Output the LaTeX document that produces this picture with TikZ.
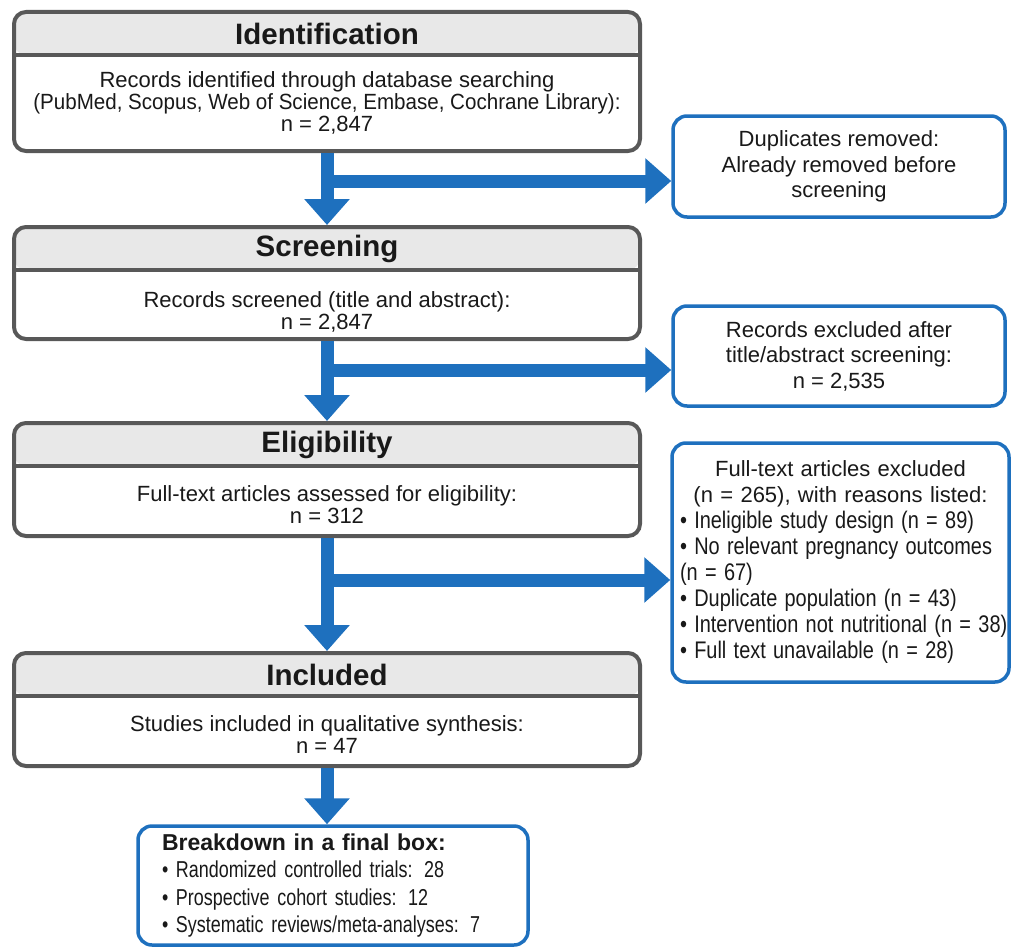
\documentclass[tikz,border=0pt]{standalone}
\usepackage{fontspec}
\usepackage{graphicx}
\setmainfont{Liberation Sans}
\newfontfamily\schmalsans{Liberation Sans}[FakeStretch=0.83]
\newfontfamily\engsans{Liberation Sans}[FakeStretch=0.78]
\usetikzlibrary{arrows.meta,calc}

\definecolor{pfeilblau}{RGB}{30,112,190}
\definecolor{rahmengrau}{RGB}{88,88,88}
\definecolor{kopfgrau}{RGB}{232,232,232}
\definecolor{schrift}{RGB}{25,25,25}

\tikzset{
  phase/.style={draw=rahmengrau, line width=4pt, rounded corners=12pt, fill=white,
    minimum width=626pt, inner sep=0pt,
    path picture={
      \fill[kopfgrau] (path picture bounding box.north west) rectangle ([yshift=-43pt]path picture bounding box.north east);
      \draw[rahmengrau, line width=4pt] ([yshift=-43pt]path picture bounding box.north west) -- ([yshift=-43pt]path picture bounding box.north east);
    }},
  phasentitel/.style={font=\bfseries\fontsize{29.5}{32}\selectfont, text=schrift},
  phasentext/.style={font=\fontsize{22}{22}\selectfont, align=center, text=schrift},
  seitenbox/.style={draw=pfeilblau, line width=3.5pt, rounded corners=14pt, fill=white,
    inner sep=0pt, text=schrift},
  fluss/.style={draw=pfeilblau, line width=13pt, -{Triangle[width=44pt,length=26pt]}}
}

\begin{document}
\begin{tikzpicture}[x=1pt, y=-1pt]
  \useasboundingbox (0,0) rectangle (1012,950);

  % Phasen-Boxen
  \node[phase, minimum height=139pt] (ident) at (327,81.5) {};
  \node[phasentitel] (identTitel) at (327,33.5) {Identification};
  \node[phasentext] (identText) at (327,102.5) {Records identified through database searching\\\scalebox{0.935}[1]{(PubMed, Scopus, Web of Science, Embase, Cochrane Library):}\\n = 2,847};

  \node[phase, minimum height=112pt] (screen) at (327,283) {};
  \node[phasentitel] (screenTitel) at (327,248.5) {Screening};
  \node[phasentext] (screenText) at (327,312) {Records screened (title and abstract):\\n = 2,847};

  \node[phase, minimum height=113pt] (elig) at (327,479.5) {};
  \node[phasentitel] (eligTitel) at (327,444.5) {Eligibility};
  \node[phasentext] (eligText) at (327,505) {Full-text articles assessed for eligibility:\\n = 312};

  \node[phase, minimum height=113pt] (incl) at (327,709.5) {};
  \node[phasentitel] (inclTitel) at (327,674.5) {Included};
  \node[phasentext] (inclText) at (327,735) {Studies included in qualitative synthesis:\\n = 47};

  % Ausschluss-Boxen
  \node[seitenbox, minimum width=332pt, minimum height=101pt, align=center,
    font=\fontsize{22}{25.5}\selectfont] (dup) at (839,166.5)
    {Duplicates removed:\\Already removed before\\screening};
  \node[seitenbox, minimum width=332pt, minimum height=100pt, align=center,
    font=\fontsize{22}{25.5}\selectfont] (recex) at (839,356)
    {Records excluded after\\title/abstract screening:\\n = 2,535};
  \node[seitenbox, minimum height=239pt, text width=321pt, inner xsep=8pt, align=left,
    font=\fontsize{22}{26}\selectfont] (ftex) at (840.5,562.5)
    {\centering Full-text articles excluded\\(n = 265), with reasons listed:\par
     \raggedright\schmalsans\fontsize{24}{26}\selectfont
     \mbox{• Ineligible study design (n = 89)}\\
     \mbox{• No relevant pregnancy outcomes}\\
     (n = 67)\\
     \mbox{• Duplicate population (n = 43)}\\
     \mbox{• Intervention not nutritional (n = 38)}\\
     \mbox{• Full text unavailable (n = 28)}};

  % Endbox
  \node[seitenbox, minimum height=119pt, text width=342pt, inner xsep=24pt, align=left,
    font=\fontsize{23}{27.5}\selectfont] (final) at (333,885.5)
    {{\bfseries Breakdown in a final box:}\\
     {\engsans • Randomized controlled trials: 28}\\
     {\engsans • Prospective cohort studies: 12}\\
     {\engsans • Systematic reviews/meta-analyses: 7}};

  % Pfeile
  \coordinate (abzw1) at (ident.south |- 0,181);
  \coordinate (abzw2) at (screen.south |- 0,370);
  \coordinate (abzw3) at (elig.south |- 0,580);
  \draw[fluss] (abzw1) -- (abzw1 -| dup.west);
  \draw[fluss] (abzw2) -- (abzw2 -| recex.west);
  \draw[fluss] (abzw3) -- (abzw3 -| ftex.west);
  \draw[fluss] (ident.south) -- (screen.north);
  \draw[fluss] (screen.south) -- (elig.north);
  \draw[fluss] (elig.south) -- (incl.north);
  \draw[fluss] (incl.south) -- (incl.south |- final.north);
\end{tikzpicture}
\end{document}
